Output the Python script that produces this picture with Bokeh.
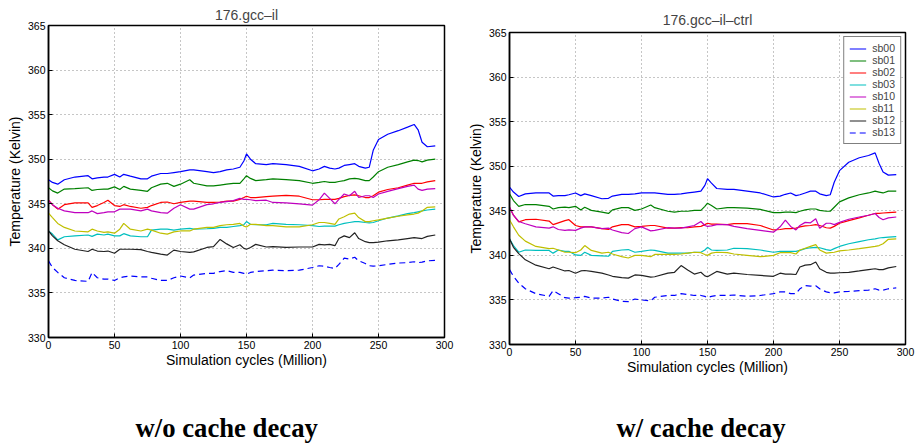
from bokeh.plotting import figure
from bokeh.models import Range1d, FixedTicker, Title, Legend, LegendItem
from bokeh.layouts import row
from bokeh.embed import file_html
from bokeh.resources import INLINE

cycles = [0, 3, 7, 12, 20, 30, 33, 37, 42, 45, 50, 54, 57, 62, 70, 75, 78, 85, 90, 95,
          100, 107, 110, 120, 125, 130, 135, 140, 145, 148, 150, 153, 157, 165, 170, 180,
          190, 200, 205, 209, 213, 217, 220, 224, 228, 232, 235, 240, 243, 246, 250, 257,
          265, 272, 277, 280, 283, 287, 293]

names = ["sb00", "sb01", "sb02", "sb03", "sb10", "sb11", "sb12", "sb13"]

# ---- 176.gcc-il (w/o cache decay) ----
il_sb00 = [347.7, 347.4, 347.2, 347.7, 348.0, 348.15, 347.8, 347.9, 348.0, 348.0,
           348.3, 348.0, 348.3, 348.1, 347.8, 347.8, 348.1, 348.4, 348.4, 348.5,
           348.6, 348.8, 348.8, 348.6, 348.5, 348.6, 348.8, 348.9, 349.1, 349.8,
           350.6, 350.0, 349.5, 349.4, 349.5, 349.4, 349.2, 348.7, 348.9, 349.2,
           349.0, 348.9, 349.0, 349.3, 349.4, 349.5, 349.2, 349.0, 349.1, 351.0,
           352.2, 352.8, 353.2, 353.6, 353.9, 353.3, 351.9, 351.4, 351.5]
il_sb01 = [346.8, 346.45, 346.2, 346.65, 346.7, 346.8, 346.5, 346.6, 346.65, 346.65,
           346.9, 346.6, 346.95, 346.65, 346.5, 346.4, 346.8, 347.2, 347.3, 346.95,
           347.2, 347.7, 347.3, 347.0, 347.0, 347.1, 347.2, 347.3, 347.3, 347.8,
           348.15, 347.85, 347.6, 347.7, 347.8, 347.7, 347.6, 347.3, 347.4, 347.5,
           347.4, 347.4, 347.5, 347.6, 347.8, 347.85, 347.8, 347.6, 347.6, 348.0,
           348.6, 349.1, 349.4, 349.7, 349.9, 349.85, 349.7, 349.9, 350.0]
il_sb02 = [345.4, 344.9, 344.4, 344.9, 345.1, 345.1, 344.6, 344.8, 345.15, 345.4,
           344.8, 344.7, 344.9, 344.7, 344.5, 344.6, 344.8, 345.15, 345.2, 345.0,
           345.15, 345.3, 345.3, 345.15, 345.15, 345.2, 345.3, 345.3, 345.5, 345.7,
           345.85, 345.7, 345.7, 345.8, 345.85, 345.95, 345.85, 345.45, 345.45, 345.5,
           345.5, 345.5, 345.6, 345.8, 345.95, 346.0, 345.9, 345.7, 345.7, 345.9,
           346.3, 346.6, 346.8, 347.1, 347.3, 347.3, 347.3, 347.45, 347.6]
il_sb03 = [341.95, 341.6, 340.95, 341.3, 341.4, 341.5, 341.35, 341.6, 341.5, 341.6,
           341.4, 341.4, 341.65, 341.4, 341.3, 341.3, 342.05, 342.15, 342.15, 342.05,
           342.15, 342.25, 342.15, 342.2, 342.25, 342.35, 342.35, 342.45, 342.55, 342.65,
           343.0, 342.7, 342.65, 342.65, 342.8, 342.7, 342.65, 342.55, 342.45, 342.5,
           342.5, 342.5, 342.65, 342.8, 342.9, 343.0, 343.0, 342.9, 342.85, 342.9,
           343.1, 343.4, 343.65, 343.9, 344.0, 344.1, 344.2, 344.3, 344.4]
il_sb10 = [345.35, 344.9, 344.5, 344.2, 344.0, 344.0, 344.2, 343.9, 344.0, 344.1,
           344.1, 344.4, 344.4, 344.4, 344.2, 344.4, 344.2, 344.0, 343.95, 344.5,
           344.9, 344.4, 344.4, 344.9, 345.0, 345.15, 345.25, 345.35, 345.6, 345.5,
           345.5, 345.45, 345.35, 345.4, 345.15, 345.1, 345.0, 344.85, 345.45, 346.2,
           345.6, 345.0, 345.5, 346.1, 345.9, 346.4, 345.7, 345.9, 345.9, 345.7,
           346.1, 346.4, 346.7, 346.95, 347.1, 346.65, 346.5, 346.65, 346.7]
il_sb11 = [343.95, 343.45, 342.8, 342.35, 341.95, 341.85, 342.15, 341.95, 341.8, 341.85,
           341.7, 342.15, 342.8, 342.15, 341.95, 342.15, 342.05, 341.7, 341.6, 341.85,
           341.95, 341.95, 342.15, 342.35, 342.35, 342.55, 342.65, 342.7, 342.8, 342.5,
           342.4, 342.7, 342.7, 342.55, 342.55, 342.4, 342.4, 342.65, 342.9, 342.9,
           342.8, 342.7, 343.3, 343.55, 343.85, 343.95, 343.45, 343.0, 343.0, 343.1,
           343.2, 343.4, 343.6, 343.75, 343.85, 343.95, 344.2, 344.6, 344.65]
il_sb12 = [341.95, 341.4, 340.85, 340.4, 339.9, 339.65, 339.9, 339.7, 339.65, 339.7,
           339.45, 339.9, 339.9, 339.9, 339.85, 339.65, 339.55, 339.35, 339.25, 339.8,
           339.65, 339.55, 339.6, 340.1, 340.2, 341.0, 340.5, 340.1, 340.4, 340.0,
           339.9, 340.1, 340.45, 340.15, 340.2, 340.1, 340.15, 340.15, 340.45, 340.4,
           340.45, 340.3, 341.1, 341.4, 341.2, 341.75, 341.1, 340.75, 340.65, 340.65,
           340.7, 340.85, 340.95, 341.1, 341.2, 341.15, 341.1, 341.35, 341.5]
il_sb13 = [338.6, 337.85, 337.3, 336.7, 336.4, 336.3, 337.3, 336.7, 336.55, 336.55,
           336.4, 336.7, 336.8, 336.9, 336.8, 336.8, 336.65, 336.4, 336.4, 336.7,
           336.9, 336.7, 337.0, 337.2, 337.2, 337.4, 337.5, 337.3, 337.3, 337.2,
           337.1, 337.3, 337.4, 337.5, 337.55, 337.5, 337.55, 337.85, 338.05, 338.0,
           337.85, 337.75, 338.2, 338.9, 338.8, 339.0, 338.6, 338.3, 338.05, 338.0,
           338.05, 338.2, 338.35, 338.4, 338.5, 338.4, 338.45, 338.6, 338.65]

# ---- 176.gcc-il-ctrl (w/ cache decay) ----
ctrl_sb00 = [347.65, 347.1, 346.6, 346.9, 347.0, 347.0, 346.65, 346.7, 346.7, 346.8,
             347.0, 346.7, 346.9, 346.7, 346.35, 346.4, 346.65, 346.85, 346.85, 346.9,
             347.0, 347.0, 347.0, 346.85, 346.85, 346.9, 347.0, 347.1, 347.2, 347.85,
             348.6, 348.1, 347.5, 347.4, 347.4, 347.2, 347.0, 346.55, 346.65, 346.85,
             347.0, 346.7, 346.8, 347.0, 347.2, 347.2, 346.9, 346.7, 346.8, 348.2,
             349.5, 350.45, 350.95, 351.2, 351.5, 350.3, 349.35, 349.0, 349.05]
ctrl_sb01 = [346.9, 346.15, 345.5, 345.7, 345.7, 345.5, 345.2, 345.35, 345.4, 345.35,
             345.5, 345.1, 345.4, 345.05, 344.85, 344.7, 345.1, 345.35, 345.35, 345.05,
             345.2, 345.65, 345.35, 344.95, 344.85, 344.95, 344.95, 345.05, 345.05, 345.5,
             345.85, 345.6, 345.2, 345.35, 345.35, 345.3, 345.15, 344.8, 344.8, 344.85,
             344.85, 344.8, 344.95, 345.1, 345.2, 345.2, 345.05, 344.95, 344.95, 345.4,
             346.0, 346.45, 346.8, 347.0, 347.2, 347.1, 347.0, 347.2, 347.2]
ctrl_sb02 = [345.4, 344.5, 343.75, 344.0, 344.05, 343.85, 343.45, 343.65, 343.9, 344.0,
             343.35, 343.2, 343.2, 343.2, 343.0, 342.9, 343.2, 343.45, 343.45, 343.2,
             343.25, 343.35, 343.35, 343.05, 343.05, 343.1, 343.1, 343.2, 343.25, 343.45,
             343.6, 343.5, 343.5, 343.45, 343.55, 343.55, 343.35, 342.85, 342.9, 343.0,
             343.0, 343.05, 343.2, 343.3, 343.35, 343.45, 343.35, 343.1, 343.05, 343.25,
             343.6, 343.9, 344.2, 344.5, 344.7, 344.7, 344.75, 344.8, 344.85]
ctrl_sb03 = [341.85, 341.1, 340.35, 340.6, 340.55, 340.55, 340.25, 340.6, 340.45, 340.45,
             340.05, 340.0, 340.35, 340.0, 339.95, 339.9, 340.45, 340.6, 340.65, 340.35,
             340.45, 340.6, 340.55, 340.25, 340.25, 340.25, 340.25, 340.35, 340.35, 340.6,
             340.9, 340.6, 340.55, 340.6, 340.8, 340.75, 340.6, 340.35, 340.45, 340.45,
             340.45, 340.45, 340.55, 340.75, 340.85, 340.9, 340.85, 340.65, 340.55, 340.75,
             341.0, 341.3, 341.55, 341.75, 341.85, 341.95, 342.0, 342.05, 342.1]
ctrl_sb10 = [345.4, 344.5, 343.8, 343.55, 343.2, 343.05, 343.2, 342.9, 342.8, 342.85,
             342.8, 343.05, 343.2, 343.2, 343.0, 343.05, 342.85, 342.55, 342.45, 343.0,
             343.2, 342.75, 342.8, 343.1, 343.05, 343.05, 343.2, 343.35, 343.8, 343.35,
             343.25, 343.3, 343.45, 343.45, 343.25, 343.0, 342.8, 342.6, 343.2, 343.95,
             343.25, 342.85, 343.35, 343.7, 343.65, 344.1, 343.05, 343.6, 343.6, 343.45,
             343.7, 344.05, 344.3, 344.5, 344.7, 344.25, 344.0, 344.2, 344.3]
ctrl_sb11 = [344.0, 343.2, 342.25, 341.6, 341.0, 340.75, 340.8, 340.6, 340.35, 340.35,
             340.3, 340.6, 341.1, 340.55, 340.25, 340.35, 340.15, 339.85, 339.7, 340.0,
             340.0, 339.85, 340.1, 340.1, 340.1, 340.15, 340.25, 340.35, 340.3, 340.1,
             340.0, 340.25, 340.35, 340.3, 340.15, 340.0, 339.85, 340.0, 340.3, 340.3,
             340.3, 340.15, 340.6, 340.8, 341.0, 341.2, 340.6, 340.25, 340.3, 340.35,
             340.5, 340.6, 340.75, 340.9, 341.0, 341.1, 341.3, 341.8, 341.85]
ctrl_sb12 = [341.85, 340.9, 340.2, 339.5, 338.9, 338.5, 338.7, 338.5, 338.25, 338.3,
             338.0, 338.25, 338.3, 338.2, 338.0, 337.8, 337.65, 337.5, 337.45, 337.8,
             337.75, 337.55, 337.6, 338.0, 338.1, 338.85, 338.35, 337.9, 338.1, 337.7,
             337.6, 337.85, 338.2, 337.9, 338.0, 337.85, 337.75, 337.65, 338.0, 337.9,
             337.9, 337.85, 338.7, 338.9, 338.95, 339.25, 338.5, 338.1, 338.0, 338.0,
             338.05, 338.1, 338.25, 338.4, 338.5, 338.4, 338.4, 338.6, 338.75]
ctrl_sb13 = [338.4, 337.65, 336.9, 336.25, 335.7, 335.4, 336.05, 335.7, 335.25, 335.2,
             335.25, 335.3, 335.4, 335.2, 335.2, 335.3, 335.1, 334.85, 334.8, 335.1,
             335.0, 334.9, 335.3, 335.5, 335.5, 335.7, 335.6, 335.5, 335.5, 335.4,
             335.25, 335.4, 335.5, 335.5, 335.55, 335.4, 335.5, 335.7, 335.9, 335.9,
             335.7, 335.7, 336.25, 336.6, 336.55, 336.6, 336.25, 335.9, 335.8, 335.8,
             335.9, 335.95, 336.05, 336.1, 336.25, 336.1, 336.1, 336.25, 336.35]

x_ticks = [0, 50, 100, 150, 200, 250, 300]
y_ticks = [330, 335, 340, 345, 350, 355, 360, 365]

colors = ["#0000ff", "#008000", "#ff0000", "#00bfbf", "#bf00bf", "#bfbf00", "#222222", "#0000ff"]
dashes = ["solid"] * 7 + ["6 4"]

SANS = "Liberation Sans"


def make_fig(title, caption, series, width, ml, mr, mt, mb, t_standoff, cap_offset, spacer, legend):
    p = figure(width=width, height=444, x_range=Range1d(0, 300), y_range=Range1d(330, 365),
               output_backend="svg", toolbar_location=None,
               min_border_left=ml, min_border_right=mr, min_border_top=mt, min_border_bottom=mb)
    p.frame_align = False
    p.background_fill_color = "white"
    p.border_fill_color = "white"
    p.outline_line_color = "black"
    p.outline_line_width = 1.5
    p.title.text = title
    p.title.align = "center"
    p.title.text_font = SANS
    p.title.text_font_size = "14px"
    p.title.text_font_style = "normal"
    p.title.standoff = t_standoff

    for ax in (p.xaxis[0], p.yaxis[0]):
        ax.axis_line_color = "black"
        ax.axis_line_width = 1.5
        ax.major_tick_in = 4
        ax.major_tick_out = 0
        ax.major_tick_line_color = "black"
        ax.minor_tick_line_color = None
        ax.major_label_text_font = SANS
        ax.major_label_text_font_size = "10.5px"
        ax.major_label_text_color = "black"
        ax.axis_label_text_font = SANS
        ax.axis_label_text_font_size = "14px"
        ax.axis_label_text_font_style = "normal"
        ax.axis_label_text_color = "black"
        ax.major_label_standoff = 3
    p.xaxis.ticker = FixedTicker(ticks=x_ticks)
    p.yaxis.ticker = FixedTicker(ticks=y_ticks)
    p.xaxis.axis_label = "Simulation cycles (Million)"
    p.yaxis.axis_label = "Temperature (Kelvin)"
    p.xaxis.axis_label_standoff = 0
    p.yaxis.axis_label_standoff = 2

    for g in (p.xgrid[0], p.ygrid[0]):
        g.grid_line_color = "#8c8c8c"
        g.grid_line_dash = "1 3"
        g.grid_line_width = 1

    items = []
    for name, ys, c, d in zip(names, series, colors, dashes):
        r = p.line(cycles, ys, line_color=c, line_width=1.2, line_dash=d)
        items.append(LegendItem(label=name, renderers=[r]))

    if legend:
        lg = Legend(items=items, location="top_right")
        lg.border_line_color = "black"
        lg.border_line_width = 1.5
        lg.background_fill_color = "white"
        lg.label_text_font = SANS
        lg.label_text_font_size = "10.5px"
        lg.label_height = 11
        lg.glyph_height = 11
        lg.glyph_width = 17
        lg.label_standoff = 6
        lg.spacing = 0
        lg.padding = 5
        lg.margin = 4
        p.add_layout(lg, "center")

    # spacer between the x axis and the caption (blank title)
    p.add_layout(Title(text=" ", text_font_size="1px", standoff=spacer), "below")
    cap = Title(text=caption, align="left", offset=cap_offset, vertical_align="bottom",
                text_font="Liberation Serif", text_font_size="26.7px",
                text_font_style="bold", text_color="black", standoff=4)
    p.add_layout(cap, "below")
    return p


p1 = make_fig("176.gcc\u2013il", "w/o cache decay",
              [il_sb00, il_sb01, il_sb02, il_sb03, il_sb10, il_sb11, il_sb12, il_sb13],
              455, 48, 11, 25, 107, 6, 87, 35, False)
p2 = make_fig("176.gcc\u2013il\u2013ctrl", "w/ cache decay",
              [ctrl_sb00, ctrl_sb01, ctrl_sb02, ctrl_sb03, ctrl_sb10, ctrl_sb11, ctrl_sb12, ctrl_sb13],
              460, 54, 10, 32, 100, 10, 107, 28, True)

layout = row(p1, p2, spacing=0)
open("out.html", "w").write(file_html(layout, INLINE))
